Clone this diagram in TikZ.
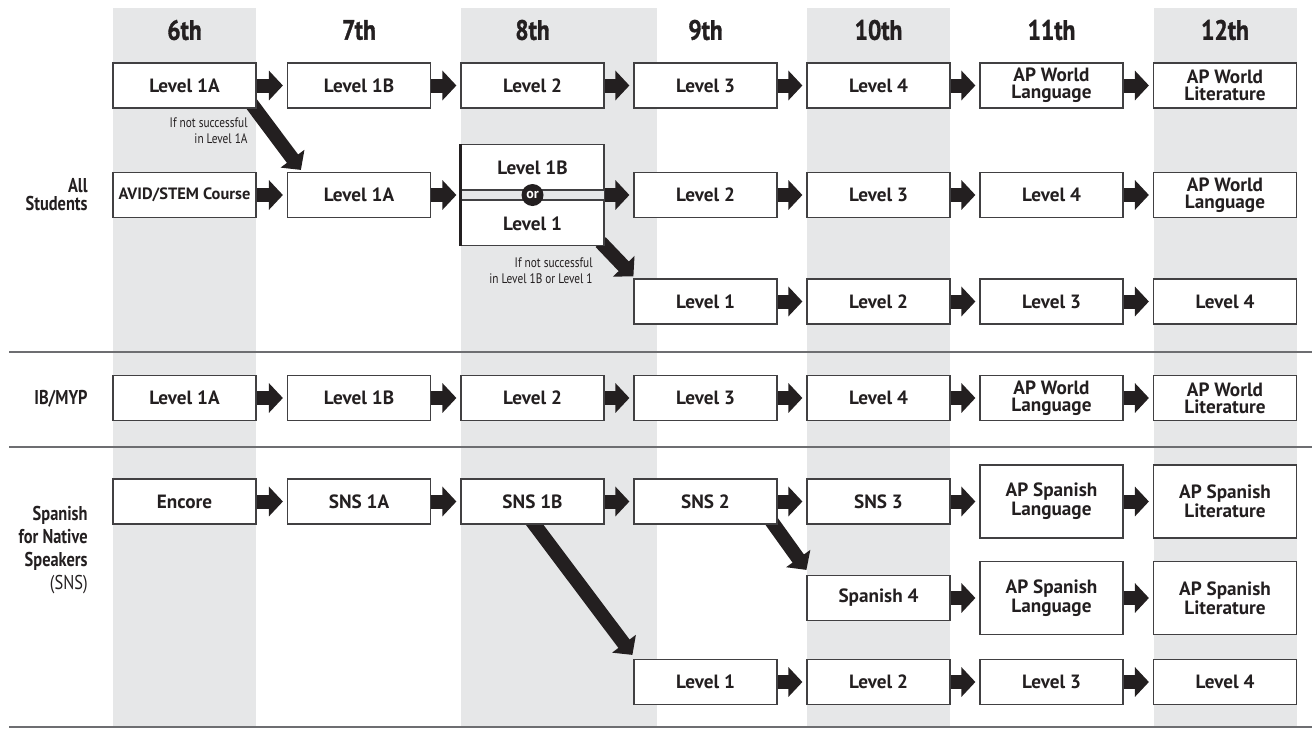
\documentclass[tikz,border=0pt]{standalone}
\usepackage{fontspec}
\setmainfont{PT Sans}
\newfontfamily\condfont[FakeStretch=0.82]{PT Sans}
\newfontfamily\gradefont[FakeStretch=0.84,BoldFeatures={FakeBold=1.2}]{PT Sans}
\usetikzlibrary{arrows.meta,calc}
\definecolor{bandgray}{HTML}{E6E7E8}
\definecolor{inkblack}{HTML}{231F20}
\definecolor{edgegray}{HTML}{414042}
\definecolor{rulegray}{HTML}{6D6E71}
\pgfdeclarelayer{bands}
\pgfdeclarelayer{arrows}
\pgfsetlayers{bands,arrows,main}

\begin{document}
\begin{tikzpicture}[x=0.5pt,y=-0.5pt,
  course/.style={draw=edgegray,line width=0.6pt,fill=white,minimum width=71.5pt,minimum height=22.5pt,inner sep=0pt,align=center,text=inkblack,font=\bfseries\fontsize{9.6}{8.6}\selectfont},
  tallcourse/.style={course,minimum height=36.5pt,font=\bfseries\fontsize{9.6}{9.4}\selectfont},
  grade/.style={text=inkblack,font=\gradefont\bfseries\fontsize{14}{15}\selectfont},
  track/.style={anchor=east,align=right,inner sep=0pt,text=inkblack,font=\condfont\bfseries\fontsize{10}{9}\selectfont},
  note/.style={anchor=east,align=right,inner sep=0pt,text=inkblack,font=\condfont\fontsize{6.9}{8}\selectfont},
  sepline/.style={draw=rulegray,line width=0.75pt},
  fwd/.style={draw=inkblack,line width=7pt,-{Triangle[width=14.5pt,length=7pt]},shorten >=2pt},
  drop/.style={fwd,shorten >=0pt},
]
\useasboundingbox (0,0) rectangle (1312,729);
\begin{pgfonlayer}{bands}
\fill[bandgray] (113,8) rectangle (256,727);
\fill[bandgray] (461,8) rectangle (657,727);
\fill[bandgray] (807,8) rectangle (950,727);
\fill[bandgray] (1154,8) rectangle (1297,727);
\draw[sepline] (9,352) -- (1312,352);
\draw[sepline] (9,447) -- (1312,447);
\draw[sepline] (9,727) -- (1312,727);
\end{pgfonlayer}

\node[grade] (g6) at (184.5,30) {6th};
\node[grade] (g7) at (359,30) {7th};
\node[grade] (g8) at (532.5,30) {8th};
\node[grade] (g9) at (705.5,30) {9th};
\node[grade] (g10) at (878.5,30) {10th};
\node[grade] (g11) at (1051.5,30) {11th};
\node[grade] (g12) at (1225,30) {12th};

\node[track] (allstudents) at (88,195) {All\\Students};
\node[track] (ibmyp) at (88,399) {IB/MYP};
\node[track,font=\condfont\bfseries\fontsize{10}{11.5}\selectfont] (sns) at (88,550) {Spanish\\for Native\\Speakers\\{\mdseries (SNS)}};

\node[course] (a6) at (184.5,85.5) {Level 1A};
\node[course] (a7) at (359,85.5) {Level 1B};
\node[course] (a8) at (532.5,85.5) {Level 2};
\node[course] (a9) at (705.5,85.5) {Level 3};
\node[course] (a10) at (878.5,85.5) {Level 4};
\node[course] (a11) at (1051.5,85.5) {AP World\\Language};
\node[course] (a12) at (1225,85.5) {AP World\\Literature};
\node[note] (nota) at (248,131) {If not successful\\in Level 1A};

\node[course,font=\bfseries\fontsize{8.2}{8}\selectfont] (b6) at (184.5,195) {AVID/STEM Course};
\node[course] (b7) at (359,195) {Level 1A};
\node[course,minimum height=50.5pt] (b8) at (532.5,195) {};
\draw[draw=edgegray,line width=0.6pt,fill=bandgray] ($(b8.west)+(0,-5)$) rectangle ($(b8.east)+(0,5)$);
\draw[inkblack,line width=1.6pt] (b8.north west) -- (b8.south west);
\node[font=\bfseries\fontsize{9.6}{8.6}\selectfont,text=inkblack] (b8top) at (532.5,168) {Level 1B};
\node[font=\bfseries\fontsize{9.6}{8.6}\selectfont,text=inkblack] (b8bot) at (532.5,224) {Level 1};
\node[circle,fill=inkblack,text=white,minimum size=11pt,inner sep=0pt,font=\bfseries\fontsize{7}{7}\selectfont] (orsign) at (b8.center) {or};
\node[course] (b9) at (705.5,195) {Level 2};
\node[course] (b10) at (878.5,195) {Level 3};
\node[course] (b11) at (1051.5,195) {Level 4};
\node[course] (b12) at (1225,195) {AP World\\Language};
\node[note] (notb) at (593,271) {If not successful\\in Level 1B or Level 1};

\node[course] (c9) at (705.5,301.5) {Level 1};
\node[course] (c10) at (878.5,301.5) {Level 2};
\node[course] (c11) at (1051.5,301.5) {Level 3};
\node[course] (c12) at (1225,301.5) {Level 4};

\node[course] (i6) at (184.5,398) {Level 1A};
\node[course] (i7) at (359,398) {Level 1B};
\node[course] (i8) at (532.5,398) {Level 2};
\node[course] (i9) at (705.5,398) {Level 3};
\node[course] (i10) at (878.5,398) {Level 4};
\node[course] (i11) at (1051.5,398) {AP World\\Language};
\node[course] (i12) at (1225,398) {AP World\\Literature};

\node[course] (s6) at (184.5,501.5) {Encore};
\node[course] (s7) at (359,501.5) {SNS 1A};
\node[course] (s8) at (532.5,501.5) {SNS 1B};
\node[course] (s9) at (705.5,501.5) {SNS 2};
\node[course] (s10) at (878.5,501.5) {SNS 3};
\node[tallcourse] (s11) at (1051.5,501.5) {AP Spanish\\Language};
\node[tallcourse] (s12) at (1225,501.5) {AP Spanish\\Literature};

\node[course] (t10) at (878.5,598) {Spanish 4};
\node[tallcourse] (t11) at (1051.5,598) {AP Spanish\\Language};
\node[tallcourse] (t12) at (1225,598) {AP Spanish\\Literature};

\node[course] (u9) at (705.5,682) {Level 1};
\node[course] (u10) at (878.5,682) {Level 2};
\node[course] (u11) at (1051.5,682) {Level 3};
\node[course] (u12) at (1225,682) {Level 4};

\begin{pgfonlayer}{arrows}
\draw[fwd] (a6.east) -- (a7.west);
\draw[fwd] (a7.east) -- (a8.west);
\draw[fwd] (a8.east) -- (a9.west);
\draw[fwd] (a9.east) -- (a10.west);
\draw[fwd] (a10.east) -- (a11.west);
\draw[fwd] (a11.east) -- (a12.west);
\draw[drop] ($(a6.south east)+(-6,-6)$) -- ($(b7.north west)+(14,-2)$);
\draw[fwd] (b6.east) -- (b7.west);
\draw[fwd] (b7.east) -- (b8.west);
\draw[fwd] (b8.east) -- (b9.west);
\draw[fwd] (b9.east) -- (b10.west);
\draw[fwd] (b10.east) -- (b11.west);
\draw[fwd] (b11.east) -- (b12.west);
\draw[drop] ($(b8.south east)+(-4,-4)$) -- ($(c9.north west)+(0,-2)$);
\draw[fwd] (c9.east) -- (c10.west);
\draw[fwd] (c10.east) -- (c11.west);
\draw[fwd] (c11.east) -- (c12.west);
\draw[fwd] (i6.east) -- (i7.west);
\draw[fwd] (i7.east) -- (i8.west);
\draw[fwd] (i8.east) -- (i9.west);
\draw[fwd] (i9.east) -- (i10.west);
\draw[fwd] (i10.east) -- (i11.west);
\draw[fwd] (i11.east) -- (i12.west);
\draw[fwd] (s6.east) -- (s7.west);
\draw[fwd] (s7.east) -- (s8.west);
\draw[fwd] (s8.east) -- (s9.west);
\draw[fwd] (s9.east) -- (s10.west);
\draw[fwd] (s10.east) -- (s11.west);
\draw[fwd] (s11.east) -- (s12.west);
\draw[drop] ($(s8.south)+(-4,-8)$) -- ($(u9.north west)+(-1,-4)$);
\draw[drop] ($(s9.south east)+(-8,-6)$) -- ($(t10.north west)+(0,-5)$);
\draw[fwd] (t10.east) -- (t11.west);
\draw[fwd] (t11.east) -- (t12.west);
\draw[fwd] (u9.east) -- (u10.west);
\draw[fwd] (u10.east) -- (u11.west);
\draw[fwd] (u11.east) -- (u12.west);
\end{pgfonlayer}
\end{tikzpicture}
\end{document}
